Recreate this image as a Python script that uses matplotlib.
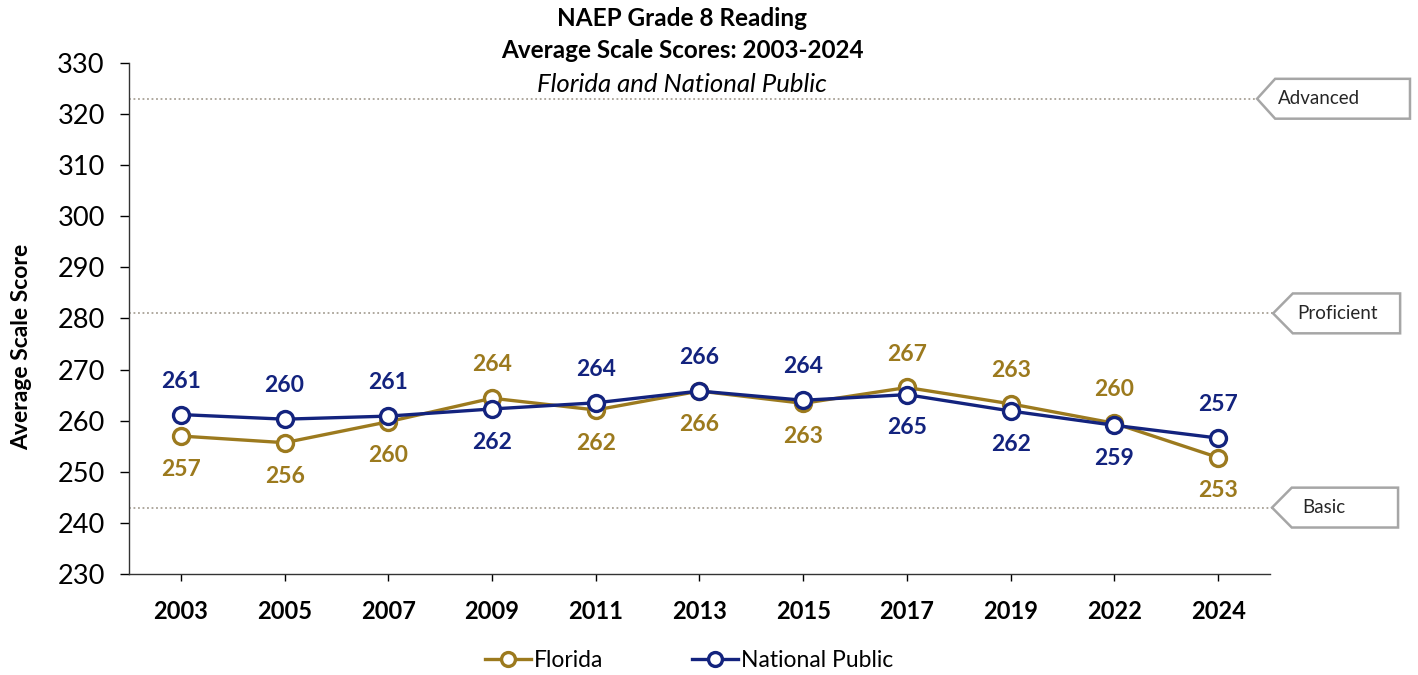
import matplotlib
matplotlib.use("Agg")
import matplotlib.pyplot as plt
from matplotlib.patches import Polygon

plt.rcParams['font.family'] = ['Lato', 'DejaVu Sans']

years = ["2003", "2005", "2007", "2009", "2011", "2013", "2015", "2017", "2019", "2022", "2024"]
florida = [257.0, 255.7, 259.8, 264.4, 262.1, 265.8, 263.4, 266.5, 263.3, 259.5, 252.8]
national = [261.2, 260.3, 260.9, 262.3, 263.5, 265.8, 264.0, 265.1, 261.9, 259.1, 256.6]
florida_labels = ["257", "256", "260", "264", "262", "266", "263", "267", "263", "260", "253"]
national_labels = ["261", "260", "261", "262", "264", "266", "264", "265", "262", "259", "257"]
# +1 = label above point, -1 = below
national_side = [1, 1, 1, -1, 1, 1, 1, -1, -1, -1, 1]
levels = [323, 281, 243]
level_names = ["Advanced", "Proficient", "Basic"]

FL_COLOR = "#9C7A1E"
NP_COLOR = "#13237E"

fig = plt.figure(figsize=(14.18, 6.75), dpi=100)
ax = fig.add_axes([0.091, 0.1496, 0.8046, 0.7571])

x = list(range(len(years)))
ax.plot(x, florida, color=FL_COLOR, lw=2.4, marker='o', ms=11.5, mfc='white',
        mec=FL_COLOR, mew=2.4, label="Florida", zorder=3)
ax.plot(x, national, color=NP_COLOR, lw=2.4, marker='o', ms=11.5, mfc='white',
        mec=NP_COLOR, mew=2.4, label="National Public", zorder=4)

for i in x:
    s = national_side[i]
    ax.annotate(national_labels[i], (i, national[i]), xytext=(0, 24 * s), textcoords='offset points',
                ha='center', va='center', fontsize=16.5, fontweight='bold', color=NP_COLOR)
    ax.annotate(florida_labels[i], (i, florida[i]), xytext=(0, -24 * s), textcoords='offset points',
                ha='center', va='center', fontsize=16.5, fontweight='bold', color=FL_COLOR)

ax.set_xlim(-0.5, 10.5)
ax.set_ylim(230, 330)
ax.set_yticks(range(230, 331, 10))
ax.set_xticks(x)
ax.set_xticklabels(years, fontsize=17, fontweight='bold')
ax.tick_params(axis='y', labelsize=19.5, direction='out', length=6.5, width=1, pad=11)
ax.tick_params(axis='x', direction='out', length=5, width=1, pad=14)
for sp in ['top', 'right']:
    ax.spines[sp].set_visible(False)
for sp in ['left', 'bottom']:
    ax.spines[sp].set_linewidth(1.0)
    ax.spines[sp].set_color('#333333')

ax.set_ylabel("Average Scale Score", fontsize=16.5, fontweight='bold')
ax.yaxis.set_label_coords(-0.085, 0.444)

# performance level lines and tags: (tip, corner, right, text center) in data x units
tag_geom = [(10.376, 10.55, 11.85, 10.97),
            (10.53, 10.72, 11.755, 11.15),
            (10.52, 10.71, 11.735, 11.02)]
for lv, name, (tip, corner, right, tc) in zip(levels, level_names, tag_geom):
    ax.plot([-0.5, tip], [lv, lv], ls=(0, (1, 1.5)), color='#A8A196', lw=1.3,
            clip_on=False, zorder=1)
    h = 3.9
    poly = Polygon([[tip, lv], [corner, lv + h], [right, lv + h], [right, lv - h], [corner, lv - h]],
                   closed=True, facecolor='white', edgecolor='#A6A6A6', lw=1.8,
                   clip_on=False, zorder=5)
    ax.add_patch(poly)
    ax.text(tc, lv, name, ha='center', va='center', fontsize=13.5,
            color='#262626', clip_on=False, zorder=6)

fig.text(0.481, 0.972, "NAEP Grade 8 Reading", ha='center', va='center',
         fontsize=17.5, fontweight='bold')
fig.text(0.481, 0.925, "Average Scale Scores: 2003-2024", ha='center', va='center',
         fontsize=17.5, fontweight='bold')
fig.text(0.481, 0.875, "Florida and National Public", ha='center', va='center',
         fontsize=18.5, style='italic')

leg = fig.legend(loc='center', bbox_to_anchor=(0.486, 0.022), ncol=2, frameon=False,
                 fontsize=16.5, columnspacing=3.85, handlelength=2.0, handletextpad=0.15)
for h in leg.legend_handles:
    h.set_markersize(10)

fig.savefig("out.png", dpi=100)
